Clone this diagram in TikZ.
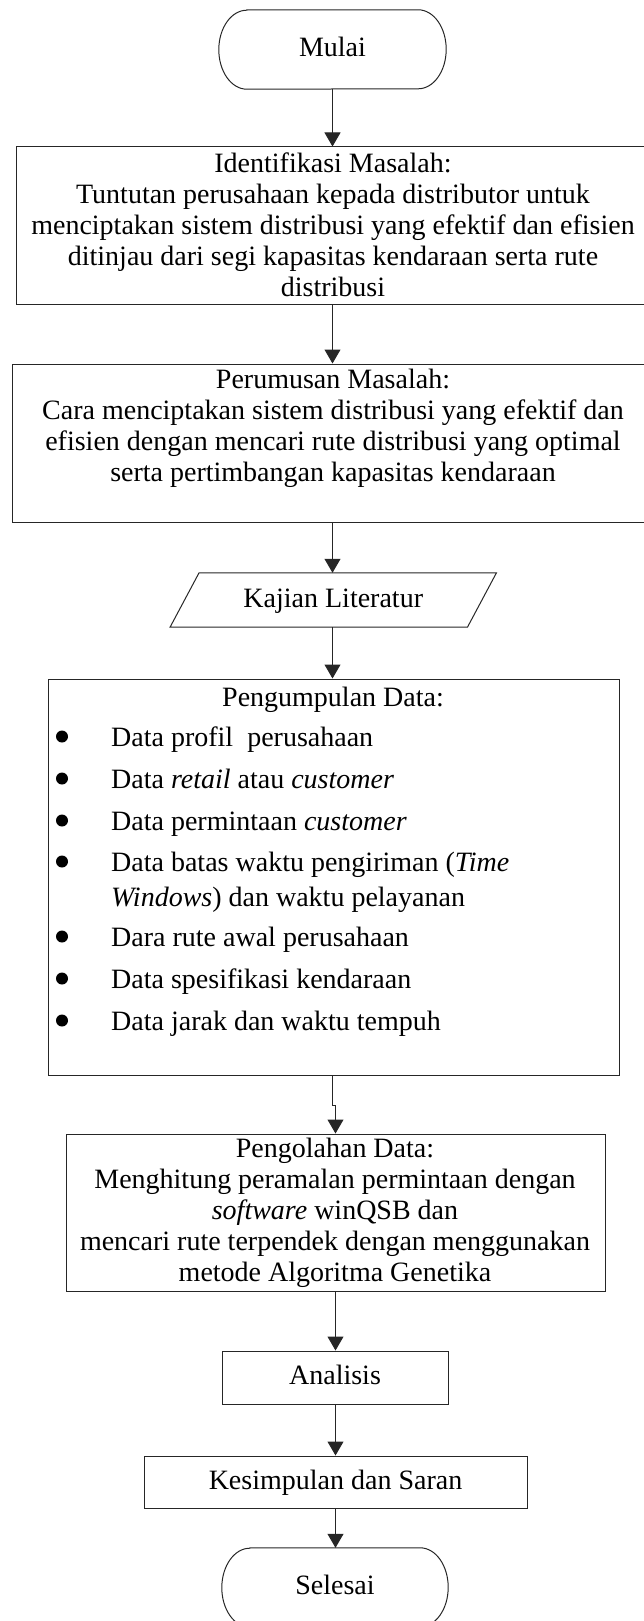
\documentclass[tikz,border=0pt]{standalone}
\usepackage{fontspec}
\setmainfont{Liberation Serif}
\usetikzlibrary{arrows.meta}
\tikzset{
  every node/.style={font=\fontsize{28}{31}\selectfont},
  ln/.style={draw=black!85, line width=1pt},
  box/.style={ln, rectangle, inner sep=0pt},
  sbox/.style={box, text height=20pt, text depth=6pt},
  term/.style={rectangle, inner sep=0pt, minimum width=227pt, minimum height=79pt, text height=20pt, text depth=6pt},
  arr/.style={draw=black!85, line width=1pt, -{Triangle[length=14pt,width=16pt]}},
  bul/.style={circle, fill=black, inner sep=0pt, minimum size=12pt},
  txt/.style={inner sep=0pt, anchor=base},
  itm/.style={inner sep=0pt, anchor=base west},
}
\newcommand\termpath[1]{\draw[ln] ([xshift=28pt]#1.north west) -- ([xshift=-28pt]#1.north east)
  arc[start angle=90,end angle=-90,x radius=28pt,y radius=39.5pt]
  -- ([xshift=28pt]#1.south west)
  arc[start angle=270,end angle=90,x radius=28pt,y radius=39.5pt] -- cycle;}
\begin{document}
\begin{tikzpicture}[x=1pt,y=-1pt]
\useasboundingbox (0,0) rectangle (644,1621);

% Mulai
\node[term] (start) at (332.5,49.5) {Mulai};
\termpath{start}

% Identifikasi
\node[box, minimum width=634pt, minimum height=157pt] (b1) at (333,225.5) {};
\node[txt] (t1) at (333,172.5) {\begin{tabular}[t]{@{}c@{}}Identifikasi Masalah:\\
Tuntutan perusahaan kepada distributor untuk\\
menciptakan sistem distribusi yang efektif dan efisien\\
ditinjau dari segi kapasitas kendaraan serta rute\\
distribusi\end{tabular}};

% Perumusan
\node[box, minimum width=642pt, minimum height=158pt] (b2) at (333,443) {};
\node[txt] (t2) at (333,388) {\begin{tabular}[t]{@{}c@{}}Perumusan Masalah:\\
Cara menciptakan sistem distribusi yang efektif dan\\
efisien dengan mencari rute distribusi yang optimal\\
serta pertimbangan kapasitas kendaraan\end{tabular}};

% Kajian Literatur
\node[inner sep=0pt, minimum width=297pt, minimum height=54pt, text height=20pt, text depth=6pt] (lit) at (333.25,600) {Kajian Literatur};
\draw[ln] ([xshift=14.5pt]lit.north west) -- ([xshift=14.5pt]lit.north east)
  -- ([xshift=-14.5pt]lit.south east) -- ([xshift=-14.5pt]lit.south west) -- cycle;

% Pengumpulan Data
\node[box, minimum width=571pt, minimum height=396pt] (b4) at (333.5,877) {};
\node[txt] (t4) at (333,706) {Pengumpulan Data:};
\node[bul] (d1) at (62,736.5) {};
\node[bul] (d2) at (62,778.5) {};
\node[bul] (d3) at (62,820.5) {};
\node[bul] (d4) at (62,861.5) {};
\node[bul] (d5) at (62,936.5) {};
\node[bul] (d6) at (62,978.5) {};
\node[bul] (d7) at (62,1020.5) {};
\node[itm] (i1) at (111,746) {Data profil\ \ perusahaan};
\node[itm] (i2) at (111,788) {Data \textit{retail} atau \textit{customer}};
\node[itm] (i3) at (111,830) {Data permintaan \textit{customer}};
\node[itm] (i4a) at (111,871) {Data batas waktu pengiriman (\textit{Time}};
\node[itm] (i4b) at (111,906) {\textit{Windows}) dan waktu pelayanan};
\node[itm] (i5) at (111,946) {Dara rute awal perusahaan};
\node[itm] (i6) at (111,988) {Data spesifikasi kendaraan};
\node[itm] (i7) at (111,1030) {Data jarak dan waktu tempuh};

% Pengolahan Data
\node[box, minimum width=539pt, minimum height=157pt] (b5) at (335.5,1212.5) {};
\node[txt] (t5) at (335,1157) {\begin{tabular}[t]{@{}c@{}}Pengolahan Data:\\
Menghitung peramalan permintaan dengan\\
\textit{software} winQSB dan\\
mencari rute terpendek dengan menggunakan\\
metode Algoritma Genetika\end{tabular}};

% Analisis
\node[sbox, minimum width=226pt, minimum height=53pt] (ana) at (335,1377.5) {Analisis};

% Kesimpulan
\node[sbox, minimum width=383pt, minimum height=52pt] (kes) at (335.5,1482) {Kesimpulan dan Saran};

% Selesai
\node[term, minimum width=226pt] (end) at (335,1587.5) {Selesai};
\termpath{end}

% connectors
\draw[arr] (start.south) -- (start.south |- b1.north);
\draw[arr] (start.south |- b1.south) -- (start.south |- b2.north);
\draw[arr] (start.south |- b2.south) -- (start.south |- lit.north);
\draw[arr] (start.south |- lit.south) -- (start.south |- b4.north);
\draw[arr] (start.south |- b4.south) -- ++(0,30) -| (b5.north);
\draw[arr] (b5.south) -- (b5.south |- ana.north);
\draw[arr] (b5.south |- ana.south) -- (b5.south |- kes.north);
\draw[arr] (b5.south |- kes.south) -- (b5.south |- end.north);
\end{tikzpicture}
\end{document}
